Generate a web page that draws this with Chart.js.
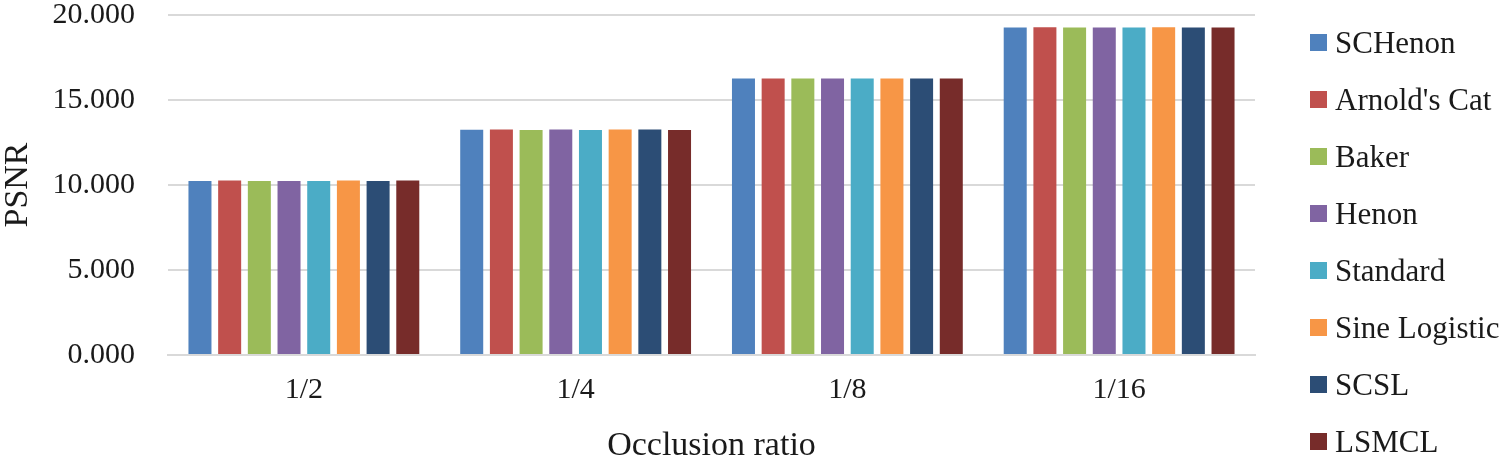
<!DOCTYPE html>
<html>
<head>
<meta charset="utf-8">
<script src="https://cdn.jsdelivr.net/npm/chart.js@4.4.0/dist/chart.umd.min.js"></script>
<style>
  html, body { margin: 0; padding: 0; background: #fff; }
  #wrap { position: relative; width: 1500px; height: 463px; }
  #legend { position: absolute; left: 1310px; top: 14px; font-family: "Liberation Serif", "Times New Roman", serif; font-size: 31px; color: #1a1a1a; }
  #legend .item { display: flex; align-items: center; height: 57px; line-height: 57px; white-space: nowrap; }
  #legend .box { width: 17px; height: 17px; margin-right: 8px; }
</style>
</head>
<body>
<div id="wrap">
  <canvas id="psnr-chart" width="1500" height="463"></canvas>
  <div id="legend"></div>
</div>
<script>
// Datos
const ratios = ['1/2', '1/4', '1/8', '1/16'];
const yTicks = [0, 5, 10, 15, 20];

const schenon     = [10.24, 13.25, 16.26, 19.26];
const arnoldsCat  = [10.26, 13.26, 16.27, 19.28];
const baker       = [10.24, 13.24, 16.26, 19.27];
const henon       = [10.24, 13.26, 16.26, 19.26];
const standard    = [10.24, 13.24, 16.26, 19.26];
const sineLogist  = [10.27, 13.27, 16.27, 19.28];
const scsl        = [10.24, 13.26, 16.26, 19.27];
const lsmcl       = [10.26, 13.24, 16.27, 19.27];

const seriesNames = ['SCHenon', "Arnold's Cat", 'Baker', 'Henon', 'Standard', 'Sine Logistic', 'SCSL', 'LSMCL'];
const seriesData = [schenon, arnoldsCat, baker, henon, standard, sineLogist, scsl, lsmcl];
const seriesColors = ['#4F81BD', '#C0504D', '#9BBB59', '#8064A2', '#4BACC6', '#F79646', '#2C4D75', '#772C2A'];

const serif = '"Liberation Serif", "Times New Roman", serif';

const ctx = document.getElementById('psnr-chart').getContext('2d');
const chart = new Chart(ctx, {
    type: 'bar',
    data: {
        labels: ratios,
        datasets: seriesNames.map((name, i) => ({
            label: name,
            data: seriesData[i],
            backgroundColor: seriesColors[i],
            borderWidth: 0,
            categoryPercentage: 0.874,
            barPercentage: 0.775
        }))
    },
    options: {
        responsive: false,
        animation: false,
        layout: { padding: { top: 1, right: 245, bottom: 0, left: 0 } },
        plugins: {
            legend: { display: false },
            tooltip: { enabled: false }
        },
        scales: {
            x: {
                grid: { display: false, drawTicks: false },
                border: { color: '#d9d9d9', width: 2 },
                ticks: { color: '#1a1a1a', padding: 20, font: { family: serif, size: 30, lineHeight: 1 } },
                title: {
                    display: true,
                    text: 'Occlusion ratio',
                    color: '#1a1a1a',
                    padding: 0,
                    font: { family: serif, size: 34, lineHeight: 1 }
                },
                afterFit: (scale) => { scale.height = 108; }
            },
            y: {
                min: 0,
                max: 20,
                afterBuildTicks: (scale) => { scale.ticks = yTicks.map(v => ({ value: v })); },
                grid: { color: '#d9d9d9', lineWidth: 2, drawTicks: false },
                border: { display: false },
                ticks: {
                    color: '#1a1a1a',
                    padding: 33,
                    font: { family: serif, size: 30, lineHeight: 1 },
                    callback: (v) => Number(v).toFixed(3)
                },
                title: {
                    display: true,
                    text: 'PSNR',
                    color: '#1a1a1a',
                    padding: { top: 1, bottom: 0 },
                    font: { family: serif, size: 34, lineHeight: 1 }
                },
                afterFit: (scale) => {
                    scale.width = 168;
                    // el padding de los ticks no debe empujar el área del gráfico
                    scale.paddingTop = 15;
                    scale.paddingBottom = 15;
                }
            }
        }
    }
});

// Leyenda en HTML a partir de los datasets
const legendEl = document.getElementById('legend');
chart.data.datasets.forEach((ds) => {
    const item = document.createElement('div');
    item.className = 'item';
    const box = document.createElement('span');
    box.className = 'box';
    box.style.background = ds.backgroundColor;
    const txt = document.createElement('span');
    txt.textContent = ds.label;
    item.appendChild(box);
    item.appendChild(txt);
    legendEl.appendChild(item);
});
</script>
</body>
</html>
